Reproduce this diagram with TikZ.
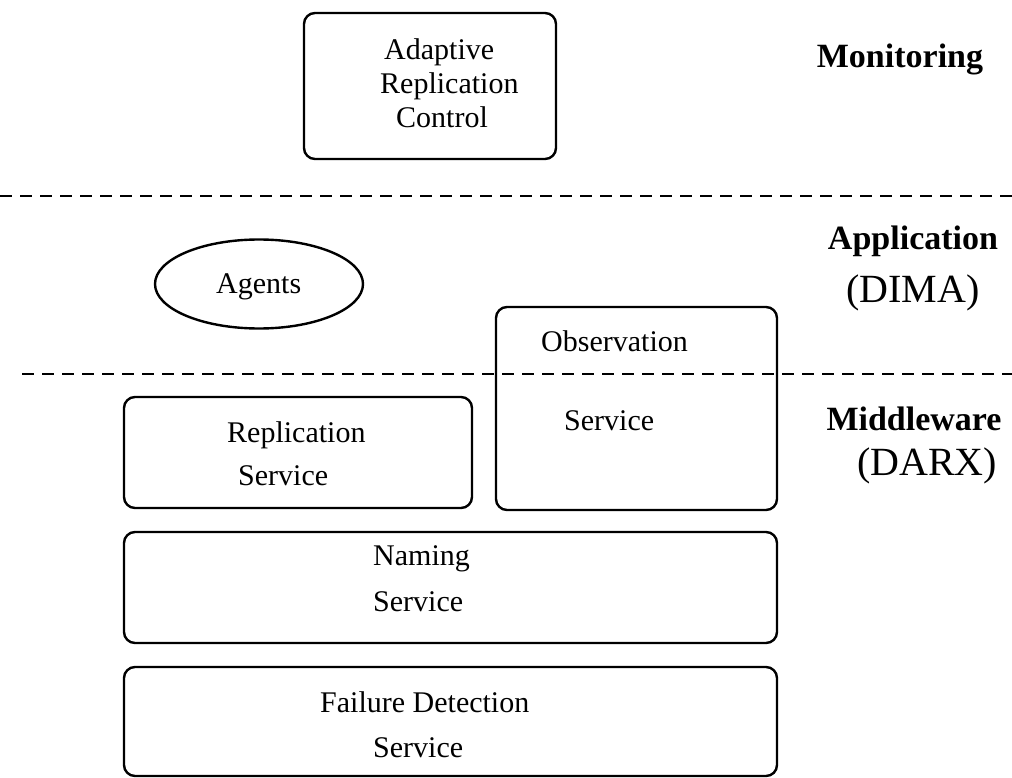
\documentclass[tikz,border=0pt]{standalone}
\usepackage{fontspec}
\setmainfont{Liberation Serif}
\usetikzlibrary{shapes.geometric}
\begin{document}
\begin{tikzpicture}[x=1pt,y=-1pt,
  rbox/.style={draw, line width=2.4pt, rounded corners=11pt, inner sep=0pt},
  oval/.style={draw, ellipse, line width=2.4pt, inner sep=0pt},
  boxtext/.style={anchor=base west, inner sep=0pt, font=\fontsize{30}{36}\selectfont},
  layertitle/.style={anchor=base, inner sep=0pt, font=\fontsize{34}{40}\selectfont\bfseries},
  layersub/.style={anchor=base, inner sep=0pt, font=\fontsize{40}{46}\selectfont},
  layerline/.style={line width=1.8pt, dash pattern=on 12pt off 8pt}]
\useasboundingbox (0,0) rectangle (1012,778);

% component boxes
\node[rbox, minimum width=252pt, minimum height=146pt] (arc) at (430,86) {};
\node[oval, minimum width=208pt, minimum height=89pt] (agents) at (259,284) {};
\node[rbox, minimum width=281pt, minimum height=203pt] (obs) at (636.5,408.5) {};
\node[rbox, minimum width=348pt, minimum height=111pt] (repl) at (298,452.5) {};
\node[rbox, minimum width=653pt, minimum height=111pt] (naming) at (450.5,587.5) {};
\node[rbox, minimum width=653pt, minimum height=109pt] (fail) at (450.5,721.5) {};

% box labels
\node[boxtext] (arc1) at (384,60) {Adaptive};
\node[boxtext] (arc2) at (380,94) {Replication};
\node[boxtext] (arc3) at (396,128) {Control};
\node[boxtext] (agt) at (216,293) {Agents};
\node[boxtext] (obs1) at (541,351) {Observation};
\node[boxtext] (obs2) at (564,430) {Service};
\node[boxtext] (rep1) at (227,442) {Replication};
\node[boxtext] (rep2) at (238,485) {Service};
\node[boxtext] (nam1) at (373,565) {Naming};
\node[boxtext] (nam2) at (373,611) {Service};
\node[boxtext] (fd1) at (320,712) {Failure Detection};
\node[boxtext] (fd2) at (373,757) {Service};

% layer names
\node[layertitle] (mon) at (900,68) {Monitoring};
\node[layertitle] (app) at (913,250) {Application};
\node[layersub] (dima) at (913,302) {(DIMA)};
\node[layertitle] (mid) at (914,430) {Middleware};
\node[layersub] (darx) at (927,475) {(DARX)};

% layer separators
\coordinate (s1w) at (0,196);
\coordinate (s1e) at (1012,196);
\coordinate (s2w) at (22,374);
\coordinate (s2e) at (1012,374);
\draw[layerline] (s1w) -- (s1e);
\draw[layerline] (s2w) -- (s2e);
\end{tikzpicture}
\end{document}
